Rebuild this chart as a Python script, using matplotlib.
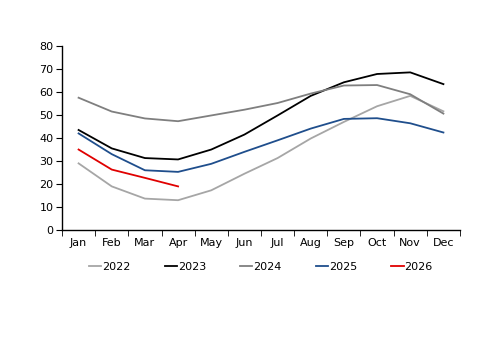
import matplotlib.pyplot as plt
import numpy as np

months = ["Jan", "Feb", "Mar", "Apr", "May", "Jun",
          "Jul", "Aug", "Sep", "Oct", "Nov", "Dec"]
y2022 = [29, 19, 13.7, 13, 17.3, 24.5, 31.3, 39.8, 47, 53.8, 58.3, 51.6]
y2023 = [43.5, 35.5, 31.3, 30.7, 35, 41.5, 49.8, 58.3, 64.2, 67.8, 68.5, 63.4]
y2024 = [57.5, 51.5, 48.5, 47.3, 49.8, 52.3, 55.2, 59.3, 62.8, 63, 59, 50.6]
y2025 = [42, 33, 26, 25.3, 28.8, 34, 39, 44.1, 48.3, 48.6, 46.4, 42.4]
y2026 = [35, 26.3, 22.7, 19]

series = [
    ("2022", y2022, "#a6a6a6"),
    ("2023", y2023, "#000000"),
    ("2024", y2024, "#7f7f7f"),
    ("2025", y2025, "#1f4e8c"),
    ("2026", y2026, "#e00000"),
]

plt.rcParams["font.family"] = ["DejaVu Sans"]
plt.rcParams["font.size"] = 8

fig = plt.figure(figsize=(5, 3.53), dpi=100)
ax = fig.add_axes([0.124, 0.348, 0.796, 0.522])

for name, vals, color in series:
    ax.plot(np.arange(len(vals)), vals, color=color, lw=1.3, label=name)

ax.set_xlim(-0.5, 11.5)
ax.set_ylim(0, 80)
ax.set_yticks(range(0, 81, 10))
ax.set_xticks(range(12))
ax.set_xticklabels(months)
ax.set_xticks(np.arange(-0.5, 12, 1), minor=True)
ax.tick_params(axis="x", which="major", length=0, pad=6)
ax.tick_params(axis="x", which="minor", length=4, direction="out")
ax.tick_params(axis="y", length=4, direction="out", pad=2)

for s in ("top", "right"):
    ax.spines[s].set_visible(False)
for s in ("left", "bottom"):
    ax.spines[s].set_linewidth(1.0)

ax.legend(loc="upper center", bbox_to_anchor=(0.5, -0.12), ncol=5,
          frameon=False, handlelength=1.1, handletextpad=0.1,
          columnspacing=3.05, fontsize=8)

fig.savefig("out.png", dpi=100)
